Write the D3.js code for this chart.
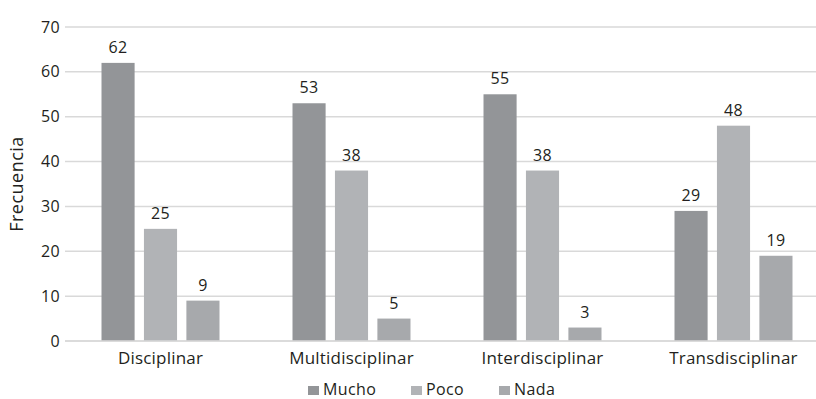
<!DOCTYPE html>
<html>
<head>
<meta charset="utf-8">
<script src="https://cdn.jsdelivr.net/npm/d3@7"></script>
<style>
  html, body { margin: 0; padding: 0; background: #fff; }
  svg { display: block; font-family: "Open Sans", sans-serif; }
</style>
</head>
<body>
<svg id="chart" width="816" height="399"></svg>
<script>
// Frequency of each response per discipline type
const categories = ["Disciplinar", "Multidisciplinar", "Interdisciplinar", "Transdisciplinar"];
const seriesNames = ["Mucho", "Poco", "Nada"];
const mucho = [62, 53, 55, 29];
const poco = [25, 38, 38, 48];
const nada = [9, 5, 3, 19];
const yTicks = [0, 10, 20, 30, 40, 50, 60, 70];
const colors = ["#939598", "#b1b3b6", "#a7a9ac"];

const values = [mucho, poco, nada];
const rows = categories.map((c, i) => ({
  category: c,
  items: seriesNames.map((s, j) => ({ series: s, value: values[j][i] }))
}));

const svg = d3.select("#chart");
const plotLeft = 65, plotRight = 829, plotTop = 27, plotBottom = 341;
const font = "'Open Sans', sans-serif";
const ink = "#231f20";

const x0 = d3.scaleBand().domain(categories).range([plotLeft, plotRight]).padding(0);
const x1 = d3.scaleBand().domain(seriesNames).range([0, x0.bandwidth()])
  .paddingInner(0.22).paddingOuter(0.86);
const y = d3.scaleLinear().domain([0, 70]).range([plotBottom, plotTop]);
const color = d3.scaleOrdinal().domain(seriesNames).range(colors);

// horizontal gridlines
svg.append("g").selectAll("line")
  .data(yTicks)
  .join("line")
  .attr("x1", plotLeft).attr("x2", 816)
  .attr("y1", d => y(d)).attr("y2", d => y(d))
  .attr("stroke", "#d9d9d9").attr("stroke-width", 1.5);

// y axis tick labels
const yAxis = d3.axisLeft(y).tickValues(yTicks).tickSize(0).tickPadding(5);
svg.append("g")
  .attr("transform", `translate(${plotLeft},0)`)
  .call(yAxis)
  .call(g => g.select(".domain").remove())
  .call(g => g.selectAll("text")
    .attr("font-size", 16).attr("fill", ink)
    .attr("letter-spacing", 0.4)
    .attr("font-family", font));

// axis title
svg.append("text")
  .attr("transform", `translate(23,${(plotTop + plotBottom) / 2}) rotate(-90)`)
  .attr("text-anchor", "middle")
  .attr("font-size", 18).attr("fill", ink)
  .attr("letter-spacing", 0.5)
  .text("Frecuencia");

// bars
const groups = svg.append("g").selectAll("g")
  .data(rows)
  .join("g")
  .attr("transform", d => `translate(${x0(d.category)},0)`);

groups.selectAll("rect")
  .data(d => d.items)
  .join("rect")
  .attr("x", d => x1(d.series))
  .attr("width", x1.bandwidth())
  .attr("y", d => y(d.value))
  .attr("height", d => y(0) - y(d.value))
  .attr("fill", d => color(d.series));

// value labels
groups.selectAll("text")
  .data(d => d.items)
  .join("text")
  .attr("x", d => x1(d.series) + x1.bandwidth() / 2)
  .attr("y", d => y(d.value) - 10)
  .attr("text-anchor", "middle")
  .attr("font-size", 16).attr("fill", ink)
  .attr("letter-spacing", 0.4)
  .text(d => d.value);

// baseline on top of bars
svg.append("line")
  .attr("x1", plotLeft).attr("x2", 816)
  .attr("y1", y(0)).attr("y2", y(0))
  .attr("stroke", "#d9d9d9").attr("stroke-width", 1.5);

// category axis
const xAxis = d3.axisBottom(x0).tickSize(0).tickPadding(11);
svg.append("g")
  .attr("transform", `translate(0,${plotBottom})`)
  .call(xAxis)
  .call(g => g.select(".domain").remove())
  .call(g => g.selectAll("text")
    .attr("font-size", 17).attr("fill", ink)
    .attr("letter-spacing", 0.2)
    .attr("font-family", font));

// legend
const legendX = [308, 411, 499];
const legend = svg.append("g").selectAll("g")
  .data(seriesNames)
  .join("g")
  .attr("transform", (d, i) => `translate(${legendX[i]},386)`);
legend.append("rect")
  .attr("width", 11).attr("height", 9)
  .attr("fill", d => color(d));
legend.append("text")
  .attr("x", 15).attr("y", 9)
  .attr("font-size", 16).attr("fill", ink)
  .attr("letter-spacing", 0.4)
  .text(d => d);
</script>
</body>
</html>
